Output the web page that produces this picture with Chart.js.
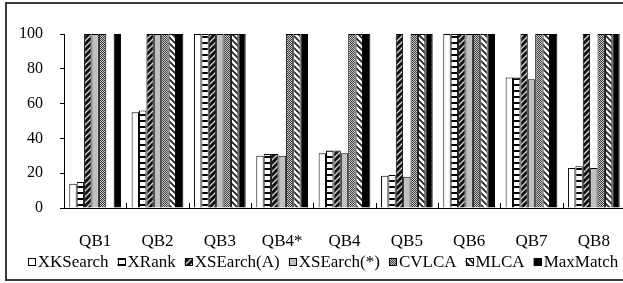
<!DOCTYPE html>
<html>
<head>
<meta charset="utf-8">
<script src="https://cdn.jsdelivr.net/npm/chart.js@4/dist/chart.umd.min.js"></script>
<style>
  html, body { margin: 0; padding: 0; background: #fff; overflow: hidden; }
  #wrap { position: relative; width: 623px; height: 283px; overflow: hidden; }
  #box { position: absolute; left: 5px; top: 2px; width: 640px; height: 275px;
         border: 2px solid #3a3a3a; pointer-events: none; }
  canvas { position: absolute; left: 0; top: 0; }
</style>
</head>
<body>
<div id="wrap">
  <canvas id="chart" width="660" height="283" style="width:660px;height:283px"></canvas>
  <div id="box"></div>
</div>
<script>
// ── DATA ──────────────────────────────────────────────
const categorias = ['QB1', 'QB2', 'QB3', 'QB4*', 'QB4', 'QB5', 'QB6', 'QB7', 'QB8'];
const xkSearch   = [14, 55, 100, 30, 31.5, 18.5, 100, 75, 23];
const xRank      = [15, 56, 100, 31, 33, 19, 100, 75, 24];
const xsEarchA   = [100, 100, 100, 31, 33, 100, 100, 100, 100];
const xsEarchS   = [100, 100, 100, 30, 31.5, 18, 100, 74, 23];
const cvlca      = [100, 100, 100, 100, 100, 100, 100, 100, 100];
const mlca       = [0, 100, 100, 100, 100, 100, 100, 100, 100];
const maxMatch   = [100, 100, 100, 100, 100, 100, 100, 100, 100];
const yTicks     = [0, 20, 40, 60, 80, 100];

const FUENTE = '"Liberation Serif", "Times New Roman", serif';

// ── PATRONES ─────────────────────────────────────────
function patron(w, h, dibujar) {
    const c = document.createElement('canvas');
    c.width = w; c.height = h;
    const g = c.getContext('2d');
    dibujar(g, w, h);
    return document.getElementById('chart').getContext('2d').createPattern(c, 'repeat');
}

const patHoriz = patron(6, 6, (g, w, h) => {
    g.fillStyle = '#fff'; g.fillRect(0, 0, w, h);
    g.fillStyle = '#000'; g.fillRect(0, 0, w, 2);
});

const patSubida = patron(6, 6, (g, w, h) => {
    g.fillStyle = '#111'; g.fillRect(0, 0, w, h);
    g.strokeStyle = '#d8d8d8'; g.lineWidth = 1.3;
    g.beginPath();
    g.moveTo(-1, h + 1); g.lineTo(w + 1, -1);
    g.moveTo(-1, 1); g.lineTo(1, -1);
    g.moveTo(w - 1, h + 1); g.lineTo(w + 1, h - 1);
    g.stroke();
});

const patPuntos = patron(2, 2, (g) => {
    g.fillStyle = '#c8c8c8'; g.fillRect(0, 0, 2, 2);
    g.fillStyle = '#3c3c3c'; g.fillRect(0, 0, 1, 1); g.fillRect(1, 1, 1, 1);
});

const patBajada = patron(6, 6, (g, w, h) => {
    g.fillStyle = '#fff'; g.fillRect(0, 0, w, h);
    g.strokeStyle = '#222'; g.lineWidth = 1.8;
    g.beginPath();
    g.moveTo(-1, -1); g.lineTo(w + 1, h + 1);
    g.moveTo(w - 1, -1); g.lineTo(w + 1, 1);
    g.moveTo(-1, h - 1); g.lineTo(1, h + 1);
    g.stroke();
});

function serie(label, data, fondo) {
    return {
        label, data,
        backgroundColor: fondo,
        borderColor: '#000',
        borderWidth: 1,
        borderSkipped: 'bottom',
        categoryPercentage: 0.83,
        barPercentage: 1,
    };
}

const datasets = [
    serie('XKSearch', xkSearch, '#fff'),
    serie('XRank', xRank, patHoriz),
    serie('XSEarch(A)', xsEarchA, patSubida),
    serie('XSEarch(*)', xsEarchS, '#c0c0c0'),
    serie('CVLCA', cvlca, patPuntos),
    serie('MLCA', mlca, patBajada),
    serie('MaxMatch', maxMatch, '#000'),
];

// marcas de categoría hacia dentro + leyenda propia
const extras = {
    id: 'extras',
    afterDatasetsDraw(chart) {
        const ctx = chart.ctx;
        const x = chart.scales.x;
        const fondo = chart.chartArea.bottom;
        ctx.save();
        ctx.strokeStyle = '#000';
        ctx.lineWidth = 1;
        for (let i = 1; i < categorias.length; i++) {
            const px = Math.round((x.getPixelForValue(i - 1) + x.getPixelForValue(i)) / 2) + 0.5;
            ctx.beginPath();
            ctx.moveTo(px, fondo);
            ctx.lineTo(px, fondo - 5);
            ctx.stroke();
        }
        ctx.restore();
    },
    afterDraw(chart) {
        const ctx = chart.ctx;
        ctx.save();
        ctx.font = '17px ' + FUENTE;
        ctx.textBaseline = 'alphabetic';
        const caja = 8, sep = 2, hueco = 9;
        const anchos = chart.data.datasets.map(d => caja + sep + ctx.measureText(d.label).width);
        const total = anchos.reduce((a, b) => a + b, 0) + hueco * (anchos.length - 1);
        let cx = 323 - total / 2;
        const base = 267;
        chart.data.datasets.forEach((d, i) => {
            ctx.fillStyle = d.backgroundColor;
            ctx.fillRect(cx, base - 9, caja, caja);
            ctx.strokeStyle = '#000';
            ctx.lineWidth = 1;
            ctx.strokeRect(Math.round(cx) + 0.5, base - 8.5, caja - 1, caja - 1);
            ctx.fillStyle = '#000';
            ctx.fillText(d.label, cx + caja + sep, base);
            cx += anchos[i] + hueco;
        });
        ctx.restore();
    },
};

new Chart(document.getElementById('chart'), {
    type: 'bar',
    data: { labels: categorias, datasets },
    plugins: [extras],
    options: {
        responsive: false,
        animation: false,
        layout: { padding: { left: 0, right: 35, top: 34, bottom: 0 } },
        plugins: { legend: { display: false }, tooltip: { enabled: false } },
        scales: {
            x: {
                grid: { display: false },
                border: { display: true, color: '#000', width: 1 },
                ticks: { color: '#000', font: { family: FUENTE, size: 17 }, padding: 15, maxRotation: 0 },
                afterFit: s => { s.height = 75; },
            },
            y: {
                min: 0, max: 100,
                afterBuildTicks: s => { s.ticks = yTicks.map(v => ({ value: v })); },
                grid: { drawOnChartArea: false, drawTicks: true, tickLength: 4, color: '#000' },
                border: { display: true, color: '#000', width: 1 },
                ticks: { color: '#000', font: { family: FUENTE, size: 16 }, padding: 17 },
                afterFit: s => { s.width = 64; },
            },
        },
    },
});
</script>
</body>
</html>
